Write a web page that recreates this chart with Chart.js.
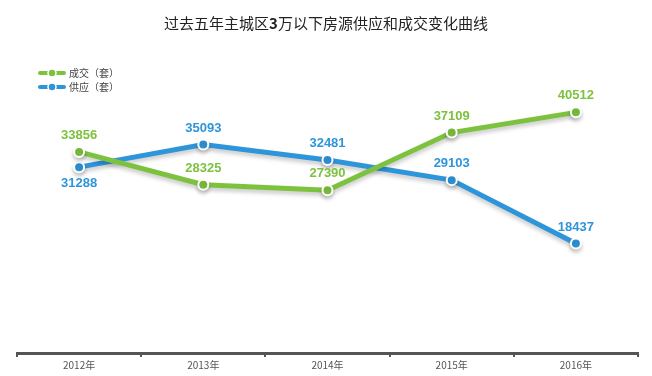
<!DOCTYPE html>
<html lang="zh">
<head>
  <meta charset="UTF-8">
  <title>过去五年主城区3万以下房源供应和成交变化曲线</title>
  <script src="https://cdn.jsdelivr.net/npm/chart.js"></script>
  <style>
    body { margin: 0; background: #fff; }
    #wrap { width: 652px; height: 376px; position: relative; }
  </style>
</head>
<body>
  <div id="wrap"><canvas id="lineChart"></canvas></div>
  <script>
    const years = ['2012年', '2013年', '2014年', '2015年', '2016年'];
    const dealValues = [33856, 28325, 27390, 37109, 40512];
    const supplyValues = [31288, 35093, 32481, 29103, 18437];
    const seriesNames = ['成交（套）', '供应（套）'];
    const titleText = ['过去五年主城区', '3', '万以下房源供应和成交变化曲线'];

    const GREEN = '#7dc23f';
    const BLUE = '#2f95da';
    const CJK = '"Noto Sans CJK SC", "Liberation Sans", sans-serif';

    // blue label below the point only for first year
    const supplyBelow = [true, false, false, false, false];

    // soft drop shadow under the lines
    const shadowPlugin = {
      id: 'shadow',
      beforeDatasetsDraw(chart) {
        const ctx = chart.ctx;
        ctx.save();
        ctx.shadowColor = 'rgba(0,0,0,0.22)';
        ctx.shadowBlur = 4;
        ctx.shadowOffsetY = 3;
      },
      afterDatasetsDraw(chart) {
        chart.ctx.restore();
      }
    };

    const decorPlugin = {
      id: 'decor',
      afterDraw(chart) {
        const ctx = chart.ctx;
        ctx.save();
        // title, "3" in bold
        ctx.textBaseline = 'middle';
        ctx.fillStyle = '#222';
        const parts = titleText.map((t, i) => ({ t, font: (i === 1 ? 'bold ' : '') + '15px ' + CJK }));
        let total = 0;
        parts.forEach(p => { ctx.font = p.font; p.w = ctx.measureText(p.t).width; total += p.w; });
        let x = 326 - total / 2;
        parts.forEach(p => { ctx.font = p.font; ctx.textAlign = 'left'; ctx.fillText(p.t, x, 23); x += p.w; });

        // legend
        [[GREEN, 73], [BLUE, 87]].forEach(([c, y], i) => {
          ctx.strokeStyle = c;
          ctx.lineWidth = 4;
          ctx.lineCap = 'round';
          ctx.beginPath(); ctx.moveTo(40, y); ctx.lineTo(64, y); ctx.stroke();
          ctx.beginPath(); ctx.arc(52, y, 4, 0, Math.PI * 2);
          ctx.fillStyle = c; ctx.fill();
          ctx.lineWidth = 1.5; ctx.strokeStyle = '#fff'; ctx.stroke();
          ctx.fillStyle = '#444';
          ctx.font = '10px ' + CJK;
          ctx.textAlign = 'left';
          ctx.fillText(seriesNames[i], 69, y);
        });

        // value labels
        ctx.font = 'bold 13px "Liberation Sans", Arial, sans-serif';
        ctx.textAlign = 'center';
        chart.data.datasets.forEach((ds, di) => {
          const meta = chart.getDatasetMeta(di);
          meta.data.forEach((pt, i) => {
            ctx.fillStyle = ds.borderColor;
            const below = di === 1 && supplyBelow[i];
            ctx.textBaseline = below ? 'top' : 'bottom';
            ctx.fillText(String(ds.data[i]), pt.x, below ? pt.y + 10 : pt.y - 10);
          });
        });
        ctx.restore();
      }
    };

    new Chart(document.getElementById('lineChart'), {
      type: 'line',
      data: {
        labels: years,
        datasets: [
          {
            label: seriesNames[0],
            data: dealValues,
            borderColor: GREEN,
            backgroundColor: GREEN,
            borderWidth: 5,
            pointRadius: 5,
            pointBorderWidth: 2,
            pointBorderColor: '#fff',
            pointBackgroundColor: GREEN,
            tension: 0
          },
          {
            label: seriesNames[1],
            data: supplyValues,
            borderColor: BLUE,
            backgroundColor: BLUE,
            borderWidth: 5,
            pointRadius: 5,
            pointBorderWidth: 2,
            pointBorderColor: '#fff',
            pointBackgroundColor: BLUE,
            tension: 0
          }
        ]
      },
      options: {
        responsive: true,
        maintainAspectRatio: false,
        animation: false,
        layout: { padding: { left: 17, right: 14, top: 56, bottom: 3 } },
        plugins: {
          legend: { display: false },
          title: { display: false },
          tooltip: { enabled: false }
        },
        scales: {
          x: {
            offset: true,
            border: { display: true, color: '#555', width: 3 },
            grid: { offset: true, drawOnChartArea: false, drawTicks: true, tickLength: 4, color: '#555', lineWidth: 2 },
            ticks: { color: '#555', font: { size: 10, family: CJK }, padding: 2 }
          },
          y: {
            display: false,
            min: 0,
            max: 50000
          }
        }
      },
      plugins: [shadowPlugin, decorPlugin]
    });
  </script>
</body>
</html>
